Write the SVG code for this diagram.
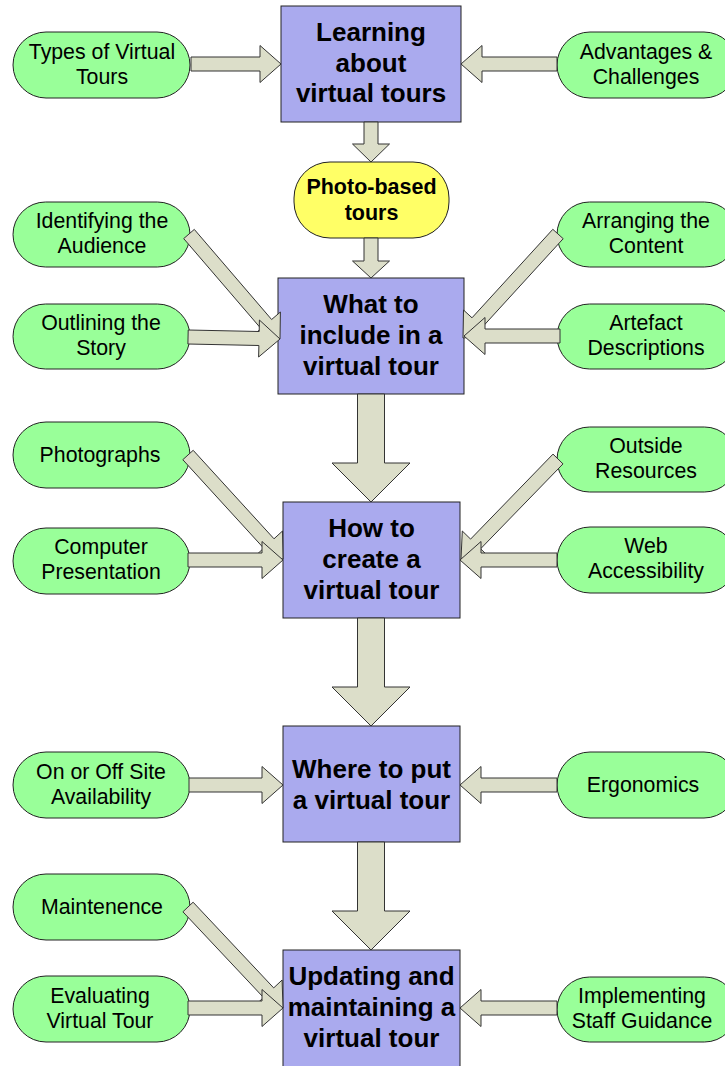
<svg xmlns="http://www.w3.org/2000/svg" width="725" height="1066" viewBox="0 0 725 1066">
<style>
.box{fill:#AAAAEE;stroke:#222;stroke-width:1}
.pill{fill:#99FF99;stroke:#222;stroke-width:1}
.photo{fill:#FFFF66;stroke:#222;stroke-width:1}
.arr{fill:#DCDEC9;stroke:#333;stroke-width:1;stroke-linejoin:miter}
.bt{font-family:"Liberation Sans",Arial,sans-serif;font-weight:bold;font-size:26px;text-anchor:middle;fill:#000}
.pt{font-family:"Liberation Sans",Arial,sans-serif;font-weight:bold;font-size:21.5px;text-anchor:middle;fill:#000}
.gt{font-family:"Liberation Sans",Arial,sans-serif;font-size:21.3px;text-anchor:middle;fill:#000}
</style>
<rect width="725" height="1066" fill="#fff"/>

<!-- green side nodes -->
<g id="types"><rect class="pill" x="13" y="32" width="177" height="66" rx="33"/><text class="gt" x="102" y="59">Types of Virtual</text><text class="gt" x="102" y="84">Tours</text></g>
<g id="advantages"><rect class="pill" x="557" y="32" width="180" height="66" rx="33"/><text class="gt" x="646" y="59">Advantages &amp;</text><text class="gt" x="646" y="84">Challenges</text></g>
<g id="identifying"><rect class="pill" x="13" y="202" width="177" height="65" rx="32.5"/><text class="gt" x="102" y="228">Identifying the</text><text class="gt" x="102" y="253">Audience</text></g>
<g id="arranging"><rect class="pill" x="557" y="202" width="180" height="65" rx="32.5"/><text class="gt" x="646" y="228">Arranging the</text><text class="gt" x="646" y="253">Content</text></g>
<g id="outlining"><rect class="pill" x="13" y="304" width="177" height="65" rx="32.5"/><text class="gt" x="101" y="330">Outlining the</text><text class="gt" x="101" y="355">Story</text></g>
<g id="artefact"><rect class="pill" x="557" y="304" width="180" height="65" rx="32.5"/><text class="gt" x="646" y="330">Artefact</text><text class="gt" x="646" y="355">Descriptions</text></g>
<g id="photographs"><rect class="pill" x="13" y="422" width="177" height="66" rx="33"/><text class="gt" x="100" y="462">Photographs</text></g>
<g id="outside"><rect class="pill" x="557" y="427" width="180" height="65" rx="32.5"/><text class="gt" x="646" y="453">Outside</text><text class="gt" x="646" y="478">Resources</text></g>
<g id="computer"><rect class="pill" x="13" y="528" width="177" height="66" rx="33"/><text class="gt" x="101" y="554">Computer</text><text class="gt" x="101" y="579">Presentation</text></g>
<g id="web"><rect class="pill" x="557" y="527" width="180" height="66" rx="33"/><text class="gt" x="646" y="553">Web</text><text class="gt" x="646" y="578">Accessibility</text></g>
<g id="onoff"><rect class="pill" x="13" y="752" width="177" height="66" rx="33"/><text class="gt" x="101" y="779">On or Off Site</text><text class="gt" x="101" y="804">Availability</text></g>
<g id="ergonomics"><rect class="pill" x="557" y="752" width="180" height="66" rx="33"/><text class="gt" x="643" y="792">Ergonomics</text></g>
<g id="maintenence"><rect class="pill" x="13" y="874" width="177" height="66" rx="33"/><text class="gt" x="102" y="914">Maintenence</text></g>
<g id="evaluating"><rect class="pill" x="13" y="976" width="177" height="66" rx="33"/><text class="gt" x="100" y="1003">Evaluating</text><text class="gt" x="100" y="1028">Virtual Tour</text></g>
<g id="implementing"><rect class="pill" x="557" y="977" width="180" height="65" rx="32.5"/><text class="gt" x="642" y="1003">Implementing</text><text class="gt" x="642" y="1028">Staff Guidance</text></g>

<!-- main nodes -->
<g id="learning"><rect class="box" x="281" y="6" width="180" height="116"/><text class="bt" x="371" y="41">Learning</text><text class="bt" x="371" y="71.5">about</text><text class="bt" x="371" y="102">virtual tours</text></g>
<g id="photo"><rect class="photo" x="294" y="162" width="155" height="76" rx="36"/><text class="pt" x="371.5" y="194">Photo-based</text><text class="pt" x="371.5" y="220">tours</text></g>
<g id="what"><rect class="box" x="278" y="278" width="186" height="116"/><text class="bt" x="371" y="313">What to</text><text class="bt" x="371" y="344">include in a</text><text class="bt" x="371" y="375">virtual tour</text></g>
<g id="how"><rect class="box" x="283" y="502" width="177" height="116"/><text class="bt" x="371.5" y="537">How to</text><text class="bt" x="371.5" y="568">create a</text><text class="bt" x="371.5" y="599">virtual tour</text></g>
<g id="where"><rect class="box" x="283" y="726" width="177" height="116"/><text class="bt" x="371.5" y="778">Where to put</text><text class="bt" x="371.5" y="809">a virtual tour</text></g>
<g id="updating"><rect class="box" x="283" y="950" width="177" height="130"/><text class="bt" x="371.5" y="985">Updating and</text><text class="bt" x="371.5" y="1016">maintaining a</text><text class="bt" x="371.5" y="1047">virtual tour</text></g>

<!-- connectors -->
<g id="connectors">
<polygon class="arr" points="191,57 260,57 260,45.5 281,64 260,82.5 260,71 191,71"/>
<polygon class="arr" points="557,57 482,57 482,45.5 461,64 482,82.5 482,71 557,71"/>
<polygon class="arr" points="364,122 364,144 352.5,144 371,162 389.5,144 378,144 378,122"/>
<polygon class="arr" points="364,238 364,261 352.5,261 371,278 389.5,261 378,261 378,238"/>
<polygon class="arr" points="183.7,238.6 261,328.6 252.3,336.1 280,339 280.4,312 271.6,319.5 194.3,229.4"/>
<polygon class="arr" points="187.9,344 258.9,345.5 258.6,357 280,339 259.4,320 259.2,331.5 188.2,330"/>
<polygon class="arr" points="552.8,229.3 472,317.8 463.5,310 463,338 490.8,335 482.3,327.2 563.2,238.7"/>
<polygon class="arr" points="560,329 485,329 485,317.5 464,336 485,354.5 485,343 560,343"/>
<polygon class="arr" points="357.5,394 357.5,463 332,463 371,502 410,463 384.5,463 384.5,394"/>
<polygon class="arr" points="182.8,459.7 263.7,548.2 255.2,556 283,559 282.5,531 274,538.8 193.2,450.3"/>
<polygon class="arr" points="188,553 262,553 262,541.5 283,560 262,578.5 262,567 188,567"/>
<polygon class="arr" points="553,454.1 470.6,539.1 462.3,531 461,559 488.9,556.8 480.6,548.8 563,463.9"/>
<polygon class="arr" points="557,553 481,553 481,541.5 460,560 481,578.5 481,567 557,567"/>
<polygon class="arr" points="357.5,618 357.5,687 332,687 371,726 410,687 384.5,687 384.5,618"/>
<polygon class="arr" points="189,778 262,778 262,766.5 283,785 262,803.5 262,792 189,792"/>
<polygon class="arr" points="557,778 481,778 481,766.5 460,785 481,803.5 481,792 557,792"/>
<polygon class="arr" points="357.5,842 357.5,911 332,911 371,950 410,911 384.5,911 384.5,842"/>
<polygon class="arr" points="182.9,911.8 263.5,997.5 255.1,1005.4 283,1008 282.1,980 273.7,987.9 193.1,902.2"/>
<polygon class="arr" points="188,1001 262,1001 262,989.5 283,1008 262,1026.5 262,1015 188,1015"/>
<polygon class="arr" points="557,1001 481,1001 481,989.5 460,1008 481,1026.5 481,1015 557,1015"/>
</g>
</svg>
